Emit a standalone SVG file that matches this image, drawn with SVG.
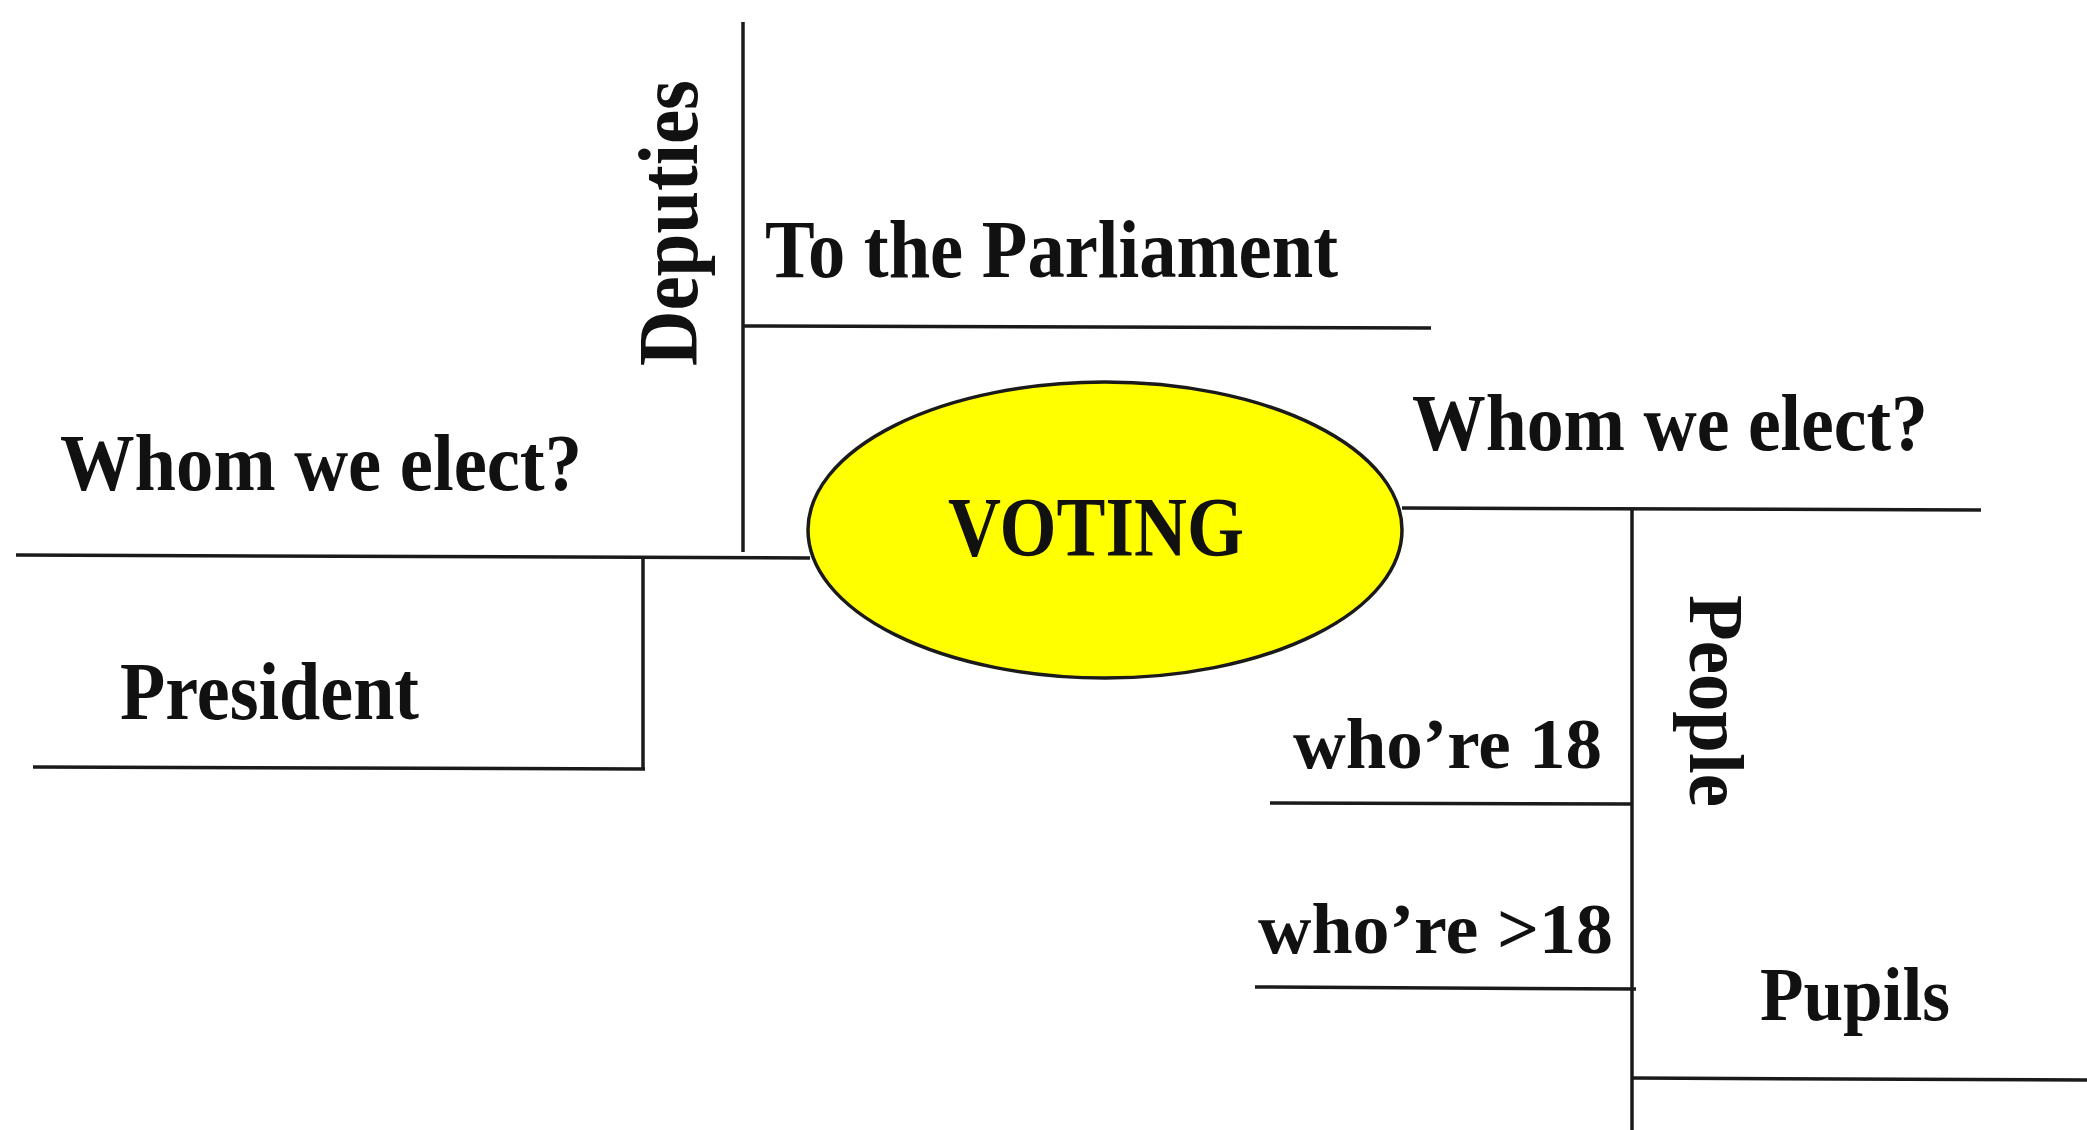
<svg xmlns="http://www.w3.org/2000/svg" width="2087" height="1130" viewBox="0 0 2087 1130">
  <style>
    .ln { stroke: #1a1a1a; stroke-width: 3.5; fill: none; stroke-linecap: butt; }
    .t { font-family: "Liberation Serif", "Times New Roman", serif; font-weight: bold; fill: #111; }
  </style>
  <rect x="0" y="0" width="2087" height="1130" fill="#ffffff"/>

  <g id="connectors">
    <line class="ln" x1="743" y1="22" x2="743" y2="552"/>
    <line class="ln" x1="743" y1="326" x2="1431" y2="328"/>
    <line class="ln" x1="16" y1="555" x2="810" y2="558"/>
    <line class="ln" x1="643" y1="558" x2="643" y2="769"/>
    <line class="ln" x1="33" y1="767" x2="645" y2="769"/>
    <line class="ln" x1="1402" y1="508" x2="1981" y2="510"/>
    <line class="ln" x1="1632" y1="510" x2="1632" y2="1130"/>
    <line class="ln" x1="1270" y1="803" x2="1632" y2="804"/>
    <line class="ln" x1="1255" y1="987" x2="1636" y2="989"/>
    <line class="ln" x1="1632" y1="1078" x2="2087" y2="1080"/>
  </g>

  <g id="node-voting">
    <ellipse cx="1105" cy="530" rx="297" ry="148" fill="#ffff00" stroke="#1a1a1a" stroke-width="3.5"/>
    <text class="t" x="948" y="556" font-size="84" textLength="296" lengthAdjust="spacingAndGlyphs">VOTING</text>
  </g>

  <g id="node-deputies">
    <text class="t" transform="translate(697,366) rotate(-90)" x="0" y="0" font-size="84" textLength="286" lengthAdjust="spacingAndGlyphs">Deputies</text>
  </g>

  <g id="node-parliament">
    <text class="t" x="765" y="277" font-size="82" textLength="573" lengthAdjust="spacingAndGlyphs">To the Parliament</text>
  </g>

  <g id="node-whom-left">
    <text class="t" x="60" y="490" font-size="80" textLength="522" lengthAdjust="spacingAndGlyphs">Whom we elect?</text>
  </g>

  <g id="node-president">
    <text class="t" x="120" y="719" font-size="82" textLength="299" lengthAdjust="spacingAndGlyphs">President</text>
  </g>

  <g id="node-whom-right">
    <text class="t" x="1412" y="450" font-size="80" textLength="516" lengthAdjust="spacingAndGlyphs">Whom we elect?</text>
  </g>

  <g id="node-people">
    <text class="t" transform="translate(1690,595) rotate(90)" x="0" y="0" font-size="78" textLength="212" lengthAdjust="spacingAndGlyphs">People</text>
  </g>

  <g id="node-who-18">
    <text class="t" x="1293" y="768" font-size="72" textLength="309" lengthAdjust="spacingAndGlyphs">who’re 18</text>
  </g>

  <g id="node-who-over-18">
    <text class="t" x="1258" y="953" font-size="72" textLength="355" lengthAdjust="spacingAndGlyphs">who’re &gt;18</text>
  </g>

  <g id="node-pupils">
    <text class="t" x="1760" y="1020" font-size="76" textLength="190" lengthAdjust="spacingAndGlyphs">Pupils</text>
  </g>
</svg>
